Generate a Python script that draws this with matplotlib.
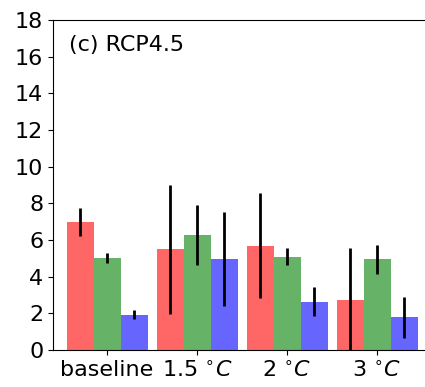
import numpy as np
import matplotlib
matplotlib.use("Agg")
import matplotlib.pyplot as plt

# --- Data ---
groups = ["baseline", r"1.5 $^{\circ}C$", r"2 $^{\circ}C$", r"3 $^{\circ}C$"]
red_vals = [7.0, 5.5, 5.7, 2.75]
red_err = [0.76, 3.52, 2.89, 2.82]
green_vals = [5.0, 6.25, 5.1, 4.95]
green_err = [0.27, 1.64, 0.44, 0.78]
blue_vals = [1.93, 4.95, 2.64, 1.78]
blue_err = [0.24, 2.57, 0.78, 1.1]

W, H = 425, 387
fig = plt.figure(figsize=(W / 100, H / 100), dpi=100)
# axes extend past the right edge, as in the cropped reference
ax = fig.add_axes([53 / W, 37 / H, 378 / W, 330 / H])

x = np.arange(len(groups))
width = 0.3
err_kw = dict(ecolor="black", elinewidth=2, capsize=0)
ax.bar(x - width, red_vals, width, yerr=red_err, color="r", alpha=0.6, error_kw=err_kw)
ax.bar(x, green_vals, width, yerr=green_err, color="g", alpha=0.6, error_kw=err_kw)
ax.bar(x + width, blue_vals, width, yerr=blue_err, color="b", alpha=0.6, error_kw=err_kw)

ax.set_xlim(-0.6, 3.6)
ax.set_ylim(0, 18)
ax.set_yticks(np.arange(0, 19, 2))
ax.set_xticks(x)
ax.set_xticklabels(groups)
ax.tick_params(labelsize=16)

ax.text(0.042, 0.924, "(c) RCP4.5", transform=ax.transAxes, fontsize=16, va="center")

fig.savefig("out.png", dpi=100)
